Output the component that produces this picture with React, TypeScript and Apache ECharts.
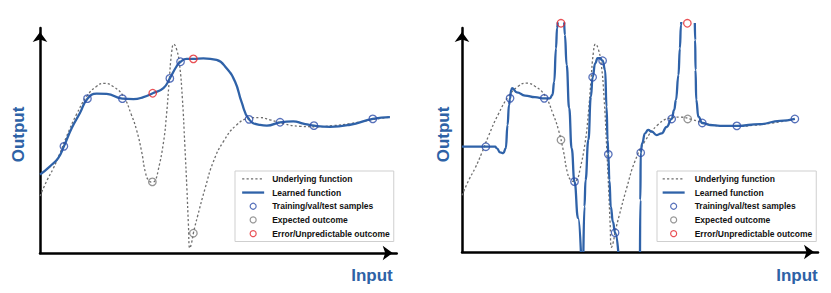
import React, { useEffect, useRef } from 'react';
import * as echarts from 'echarts';

// Shared underlying function (x: input 0-100, y: output 0-100 of the axis length)
const underlying: number[][] = [
  [0, 25.3], [2, 32.4], [3.7, 37.5], [5.5, 44], [7.5, 52], [10.2, 61.5], [13.2, 69.8], [15.8, 74],
  [18, 75.4], [20.5, 74], [23.3, 69.8], [25.6, 61.5], [27.1, 54.5], [28.5, 45], [29.6, 35.5],
  [30.6, 32], [31.5, 31.5], [32.3, 32.3], [33.1, 36.5], [34.6, 49], [35.5, 62], [36.2, 76],
  [36.9, 89], [37.5, 92.8], [38.3, 90.5], [39.1, 84], [39.9, 69], [40.6, 48], [41.2, 28],
  [41.6, 13], [42, 2.1], [42.5, 4.5], [43, 8.8], [44.2, 16.5], [46.3, 28.8], [48.6, 40.6],
  [51.4, 49.5], [55.1, 56.9], [58.6, 59.8], [61.5, 60.2], [64.5, 59.2], [68.2, 57.5], [72.9, 56.3],
  [77.6, 56.1], [82.2, 56.6], [86.9, 57.5], [93.3, 59.3], [98.1, 60.4],
];

// Left panel: well generalised learned function
const learnedLeft: number[][] = [
  [0, 34.8], [2.8, 38.5], [5.1, 42.2], [6.7, 47.4], [8.9, 55.6], [11.2, 62.2], [13.3, 68.6],
  [15.9, 70.8], [18.7, 70.7], [23.1, 68.6], [26.2, 68.4], [29, 69.3], [31.6, 71.0], [34.6, 73.3],
  [36.4, 77.6], [38.3, 83], [39.4, 85], [41.1, 86.3], [43, 86.3], [45.8, 86.5], [49.5, 85.8],
  [52.3, 82.1], [54.7, 76.1], [56.5, 67.2], [58.6, 59.4], [61.7, 56.9], [63.6, 56.6], [67.3, 58.1],
  [71, 58.5], [73.8, 57.5], [76.8, 56.6], [81.3, 56.1], [86.9, 57], [93.3, 59.6], [98.1, 60.4],
];
const samplesLeft: number[][] = [
  [6.7, 47.4], [13.3, 68.6], [23.1, 68.6], [36.4, 77.6], [39.4, 85], [58.6, 59.4], [67.3, 58.1],
  [76.8, 56.6], [93.3, 59.6],
];
const expectedLeft: number[][] = [[31.5, 31.6], [43, 8.8]];
const errorsLeft: number[][] = [[31.6, 71.0], [43, 86.3]];

// Right panel: overfitted learned function (null = break in the curve)
const learnedRight: (number[] | null)[] = [
  [0, 47], [6.7, 47], [9.3, 47], [9.8, 46.3], [10.7, 44.5], [11.6, 44.1], [12.3, 46.3], [12.8, 56.7],
  [13.2, 65.6], [13.5, 68.6], [13.8, 72.3], [14.1, 73.1], [15.4, 71.3], [17.7, 69.8], [20.5, 69.1],
  [23.1, 68.6], [24.7, 68.6], [25.4, 70.1], [25.9, 76], [26.4, 90.9], [26.7, 99.9], [26.9, 102.5],
  null,
  [28.7, 102.5], [28.9, 96.9], [29.4, 83.5], [30.1, 64.2], [30.8, 46.3], [31.6, 31.4], [32.6, 15.2],
  [33.4, 0],
  null,
  [34.1, 0], [34.4, 20.2], [34.7, 32.1], [35.5, 50], [36.2, 69.3], [36.7, 78], [37.4, 84.2],
  [38.1, 86.5], [38.8, 86.5], [39.5, 85.4], [40.2, 81.3], [40.6, 64.9], [40.9, 50], [41.1, 43.6],
  [41.4, 32.1], [41.8, 20.2], [42.4, 13.4], [43, 8.6], [43.9, 0],
  null,
  [50, 0], [50.1, 23.2], [50.2, 44.3], [50.6, 48.5], [51.4, 53], [52.3, 54.5], [53.3, 53.7],
  [54.7, 52.2], [56.1, 53], [57.5, 55.9], [58.9, 59.4], [59.6, 63.4], [60.1, 67.9], [60.8, 79],
  [61.2, 90.9], [61.5, 101.3], [61.6, 102.7],
  null,
  [65.4, 102.2], [65.5, 94.6], [65.6, 81.3], [65.8, 67.9], [66.4, 60.4], [67.5, 57.6], [69.7, 56.7],
  [72.5, 56.3], [77.2, 56.3], [83.7, 57.1], [89.3, 58.5], [93.5, 59.4],
];
const samplesRight: number[][] = [
  [6.7, 47], [13.5, 68.6], [23.1, 68.6], [31.6, 31.4], [36.7, 78], [39.5, 85.4], [41.1, 43.6],
  [43, 8.6], [50.2, 44.3], [58.9, 59.4], [67.5, 57.6], [77.2, 56.3], [93.5, 59.4],
];
const expectedRight: number[][] = [[27.8, 50], [63.4, 59.4]];
const errorsRight: number[][] = [[27.8, 102.1], [63.3, 102.1]];
const rightEnd = 93.5;

const legendNames = [
  'Underlying function',
  'Learned function',
  'Training/val/test samples',
  'Expected outcome',
  'Error/Unpredictable outcome',
];
const axisTitleX = 'Input';
const axisTitleY = 'Output';

const BLUE = '#2f62a8';
const SAMPLE = '#2d4da9';
const GREY = '#7a7a7a';
const RED = '#e3262c';
const DOT = '#6e6e6e';
const LABEL = '#2e62a6';
const FONT = '"Liberation Sans", Arial, Helvetica, sans-serif';

function splitSegments(arr: (number[] | null)[]): number[][][] {
  const out: number[][][] = [];
  let cur: number[][] = [];
  arr.forEach((p) => {
    if (p === null) {
      if (cur.length) out.push(cur);
      cur = [];
    } else cur.push(p);
  });
  if (cur.length) out.push(cur);
  return out;
}

function panelSeries(idx: number, under: number[][], learned: number[][][], samples: number[][], expected: number[][], errors: number[][], monotone: boolean) {
  const base = { xAxisIndex: idx, yAxisIndex: idx };
  const s: any[] = [];
  s.push({
    ...base,
    type: 'line',
    name: legendNames[0],
    data: under,
    symbol: 'none',
    smooth: 0.5,
    lineStyle: { color: DOT, width: 1.3, type: [2.2, 2.2] },
    itemStyle: { color: DOT },
    z: 2,
  });
  learned.forEach((seg) => {
    s.push({
      ...base,
      type: 'line',
      name: legendNames[1],
      data: seg,
      symbol: 'none',
      smooth: 0.5,
      smoothMonotone: monotone ? 'x' : undefined,
      clip: false,
      lineStyle: { color: BLUE, width: 2.3 },
      itemStyle: { color: BLUE },
      z: 3,
    });
  });
  const sc = (name: string, data: number[][], color: string) => ({
    ...base,
    type: 'scatter',
    name,
    data,
    symbol: 'circle',
    symbolSize: 7.5,
    clip: false,
    itemStyle: { color: 'rgba(255,255,255,0)', borderColor: color, borderWidth: 1.3 },
    z: 4,
  });
  s.push(sc(legendNames[2], samples, SAMPLE));
  s.push(sc(legendNames[3], expected, GREY));
  s.push(sc(legendNames[4], errors, RED));
  return s;
}

function axisCommon(gridIndex: number) {
  return {
    type: 'value',
    gridIndex,
    min: 0,
    max: 100,
    axisLine: {
      show: true,
      onZero: false,
      symbol: ['none', 'arrow'],
      symbolSize: [11, 10],
      symbolOffset: [0, -4],
      lineStyle: { color: '#000', width: 2.5 },
    },
    axisTick: { show: false },
    axisLabel: { show: false },
    splitLine: { show: false },
  };
}

function legendFor(left: number, padLeft: number, textPad: number) {
  return {
    orient: 'vertical',
    left,
    top: 171,
    padding: [3, 4, 3, padLeft],
    itemWidth: 22,
    itemHeight: 6,
    itemGap: 4,
    selectedMode: false,
    backgroundColor: '#fff',
    borderColor: '#cfcfcf',
    borderWidth: 1,
    borderRadius: 0,
    textStyle: {
      fontFamily: FONT,
      fontSize: 8.5,
      fontWeight: 'bold',
      color: '#111',
      lineHeight: 9.7,
      padding: [0, 0, 0, textPad],
    },
    data: [
      { name: legendNames[0], itemStyle: { opacity: 0 }, lineStyle: { width: 1.3 } },
      { name: legendNames[1], itemStyle: { opacity: 0 }, lineStyle: { width: 2.3 } },
      { name: legendNames[2], itemStyle: { borderWidth: 1.2 } },
      { name: legendNames[3], itemStyle: { borderWidth: 1.2 } },
      { name: legendNames[4], itemStyle: { borderWidth: 1.2 } },
    ],
  };
}

function titleTexts(outputX: number, inputRight: number) {
  const st = { fill: LABEL, fontSize: 17, fontWeight: 'bold', fontFamily: FONT };
  return [
    {
      type: 'text',
      x: outputX,
      y: 134.5,
      rotation: Math.PI / 2,
      style: { ...st, text: axisTitleY, align: 'center', verticalAlign: 'middle' },
    },
    {
      type: 'text',
      x: inputRight,
      y: 275,
      style: { ...st, text: axisTitleX, align: 'right', verticalAlign: 'middle' },
    },
  ];
}

export default function App() {
  const ref = useRef<HTMLDivElement>(null);
  useEffect(() => {
    if (!ref.current) return;
    const chart = echarts.init(ref.current, null, { renderer: 'svg' });
    const option: any = {
      animation: false,
      backgroundColor: '#fff',
      textStyle: { fontFamily: FONT },
      grid: [
        { left: 40, top: 28, width: 356.7, height: 225 },
        { left: 462, top: 28, width: 356, height: 224 },
      ],
      xAxis: [axisCommon(0), axisCommon(1)],
      yAxis: [axisCommon(0), axisCommon(1)],
      legend: [legendFor(235, 6, 3), legendFor(657, 4.5, 5)],
      graphic: [...titleTexts(18.5, 392.7), ...titleTexts(443.5, 817.7)],
      series: [
        ...panelSeries(0, underlying, [learnedLeft], samplesLeft, expectedLeft, errorsLeft, false),
        ...panelSeries(
          1,
          underlying.filter((p) => p[0] <= rightEnd),
          splitSegments(learnedRight),
          samplesRight,
          expectedRight,
          errorsRight,
          true
        ),
      ],
    };
    chart.setOption(option);
    return () => chart.dispose();
  }, []);
  return (
    <div
      ref={ref}
      style={{ position: 'fixed', left: 0, top: 0, width: 831, height: 293, background: '#fff' }}
    />
  );
}
